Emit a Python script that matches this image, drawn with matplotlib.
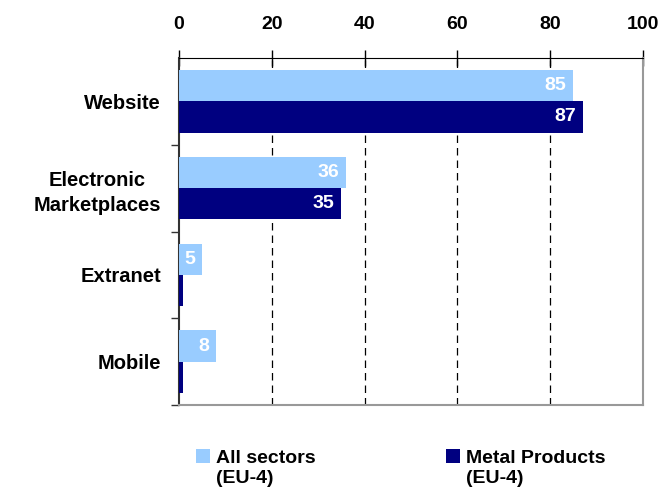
import matplotlib
matplotlib.use("Agg")
import matplotlib.pyplot as plt
from matplotlib.patches import Patch
from matplotlib.ticker import FixedLocator
import numpy as np

categories = ["Website", "Electronic\nMarketplaces", "Extranet", "Mobile"]
all_sectors = [85, 36, 5, 8]
metal_products = [87, 35, 0.8, 0.8]
labels_all = ["85", "36", "5", "8"]
labels_metal = ["87", "35", "", ""]
series_names = ["All sectors", "Metal Products"]
x_ticks = [0, 20, 40, 60, 80, 100]

light = "#99CCFF"
dark = "#000080"
font = "Liberation Sans"

fig = plt.figure(figsize=(6.64, 4.95), dpi=100)
ax = fig.add_axes([179 / 664, 1 - 405 / 495, 464 / 664, 347 / 495])

y = np.arange(len(categories))
h = 0.36
ax.barh(y - h / 2, all_sectors, height=h, color=light, zorder=3)
ax.barh(y + h / 2, metal_products, height=h, color=dark, zorder=3)

for yi, v, t in zip(y, all_sectors, labels_all):
    if t:
        ax.annotate(t, (v, yi - h / 2), xytext=(-5, 0), textcoords="offset points",
                    ha="right", va="center", color="white", fontsize=14,
                    fontweight="bold", family=font, zorder=4)
for yi, v, t in zip(y, metal_products, labels_metal):
    if t:
        ax.annotate(t, (v, yi + h / 2), xytext=(-5, 0), textcoords="offset points",
                    ha="right", va="center", color="white", fontsize=14,
                    fontweight="bold", family=font, zorder=4)

ax.set_xlim(0, 100)
ax.set_ylim(3.5, -0.5)
ax.xaxis.tick_top()
ax.set_xticks(x_ticks)
ax.set_xticklabels([str(t) for t in x_ticks], fontsize=14, fontweight="bold", family=font)
ax.tick_params(axis="x", which="major", direction="inout", length=12, width=1,
               pad=12, colors="black")

ax.set_yticks(y)
ax.set_yticklabels(categories, fontsize=14.5, fontweight="bold", family=font,
                   ha="right", multialignment="center", linespacing=1.4)
ax.tick_params(axis="y", which="major", length=0, pad=13)
ax.yaxis.set_minor_locator(FixedLocator([0.5, 1.5, 2.5, 3.5]))
ax.tick_params(axis="y", which="minor", direction="out", length=6, width=1, color="#333333")

for xv in x_ticks[1:-1]:
    ax.axvline(xv, color="black", linestyle=(0, (6, 4)), linewidth=0.9, zorder=1)

ax.spines["top"].set_color("black")
ax.spines["left"].set_color("#333333")
ax.spines["left"].set_linewidth(1.5)
ax.spines["right"].set_color("#999999")
ax.spines["bottom"].set_color("#999999")
ax.spines["right"].set_linewidth(1.5)
ax.spines["bottom"].set_linewidth(1.5)

blank = Patch(facecolor="none", edgecolor="none")
legend_kw = dict(loc="upper left", frameon=False,
                 prop={"family": font, "weight": "bold", "size": 14},
                 handlelength=0.7, handleheight=0.7, handletextpad=0.35,
                 labelspacing=0.12, borderaxespad=0, borderpad=0)
leg1 = fig.legend([Patch(facecolor=light), blank], [series_names[0], "(EU-4)"],
                  bbox_to_anchor=(196 / 664, 1 - 449 / 495), **legend_kw)
leg2 = fig.legend([Patch(facecolor=dark), blank], [series_names[1], "(EU-4)"],
                  bbox_to_anchor=(446 / 664, 1 - 449 / 495), **legend_kw)

fig.savefig("out.png", dpi=100)
